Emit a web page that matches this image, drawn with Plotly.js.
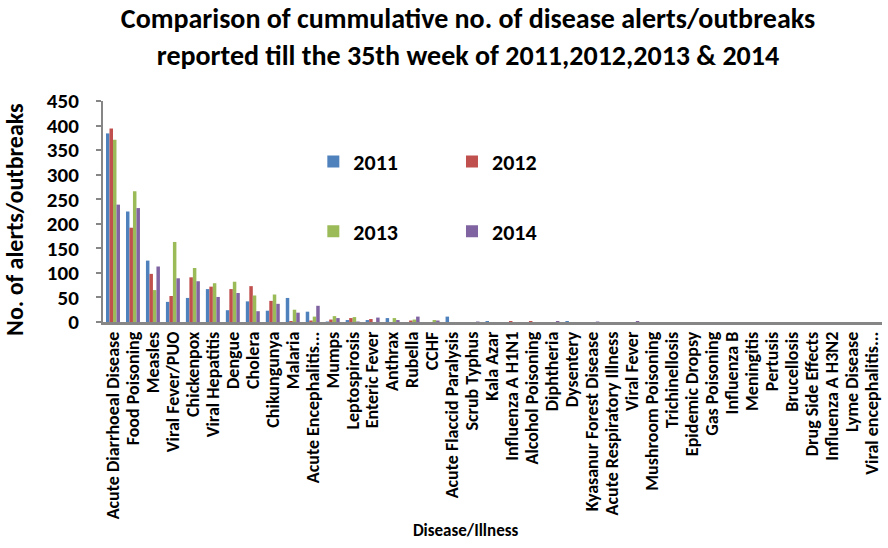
<!DOCTYPE html>
<html>
<head>
<meta charset="utf-8">
<script src="https://cdn.plot.ly/plotly-3.0.1.min.js"></script>
<style>html,body{margin:0;padding:0;background:#fff;}#chart{width:888px;height:548px;}</style>
</head>
<body>
<div id="chart"></div>
<script>
const categories = ["Acute Diarrhoeal Disease","Food Poisoning","Measles","Viral Fever/PUO","Chickenpox","Viral Hepatitis","Dengue","Cholera","Chikungunya","Malaria","Acute Encephalitis...","Mumps","Leptospirosis","Enteric Fever","Anthrax","Rubella","CCHF","Acute Flaccid Paralysis","Scrub Typhus","Kala Azar","Influenza A H1N1","Alcohol Poisoning","Diphtheria","Dysentery","Kyasanur Forest Disease","Acute Respiratory Illness","Viral Fever","Mushroom Poisoning","Trichinellosis","Epidemic Dropsy","Gas Poisoning","Influenza B","Meningitis","Pertusis","Brucellosis","Drug Side Effects","Influenza A H3N2","Lyme Disease","Viral encephalitis..."];

const v2011 = [384,225,125,41,49,67,24,42,23,49,21,1,4,4,8,0,0,11,0,2,0,0,0,2,0,0,0,0,0,0,0,0,0,0,0,0,0,0,0];
const v2012 = [394,192,98,53,91,72,67,73,43,2,3,5,8,6,0,3,0,0,0,0,2,2,0,0,0,0,0,0,0,0,0,0,0,0,0,0,0,0,0];
const v2013 = [371,266,65,163,110,79,82,54,56,25,11,12,10,0,8,5,4,0,0,0,0,0,0,0,0,0,0,0,0,0,0,0,0,0,0,0,0,0,0];
const v2014 = [239,232,113,89,83,51,59,22,37,19,33,8,1,9,4,11,3,0,1,0,0,0,2,0,1,0,2,0,0,0,0,0,0,0,0,0,0,0,0];

const seriesNames = ["2011","2012","2013","2014"];
const seriesColors = ["#4F81BD","#C0504D","#9BBB59","#8064A2"];
const seriesValues = [v2011, v2012, v2013, v2014];
const legendIds = ["legend","legend2","legend3","legend4"];

const FONT = "Carlito, Calibri, 'Liberation Sans Narrow', 'Roboto Condensed', Roboto, sans-serif";

const traces = seriesNames.map((n,i)=>({
  type:'bar', name:n, x:categories, y:seriesValues[i],
  marker:{color:seriesColors[i], line:{width:0}},
  legend: legendIds[i]
}));

function leg(x,y){
  return {x:x, y:y, xref:'paper', yref:'paper', xanchor:'left', yanchor:'top',
    bgcolor:'rgba(0,0,0,0)', font:{family:FONT, size:22, color:'#000', weight:'bold'},
    itemwidth:30, tracegroupgap:0};
}

const NB = '\u00a0';

const layout = {
  width:888, height:548,
  paper_bgcolor:'#fff', plot_bgcolor:'#fff',
  margin:{l:103, r:6, t:101, b:226, autoexpand:false},
  barmode:'group', bargap:0.3, bargroupgap:0,
  font:{family:FONT, color:'#000'},
  title:{text:'<b>Comparison of cummulative no. of disease alerts/outbreaks<br>reported till the 35th week of 2011,2012,2013 & 2014</b>',
    font:{family:FONT, size:28, color:'#000'}, xref:'container', yref:'container',
    x:0.527, xanchor:'center', y:0.948, yanchor:'top'},
  xaxis:{type:'category', tickmode:'linear', tick0:0, dtick:1, tickangle:-90, showline:true, linecolor:'#868686', linewidth:2.5,
    ticks:'', tickfont:{family:FONT, size:18, color:'#000', weight:'bold'}, automargin:false,
    title:{text:'<b>Disease/Illness' + NB.repeat(14) + '</b>', font:{family:FONT, size:17, color:'#000'}, standoff:6},
    showgrid:false, zeroline:false},
  yaxis:{range:[0,450], dtick:50, tick0:0, showline:true, linecolor:'#868686', linewidth:2,
    ticks:'outside', ticklen:5, tickcolor:'#868686', tickwidth:2, ticklabelstandoff:13,
    tickfont:{family:FONT, size:21, color:'#000', weight:'bold'}, showgrid:false, zeroline:false, automargin:false,
    title:{text:'<b>No. of alerts/outbreaks' + NB.repeat(3) + '</b>', font:{family:FONT, size:24, color:'#000'}, standoff:16}},
  legend: leg(0.270, 0.82),
  legend2: leg(0.448, 0.82),
  legend3: leg(0.270, 0.505),
  legend4: leg(0.448, 0.505),
  showlegend:true
};

Plotly.newPlot('chart', traces, layout, {displayModeBar:false, staticPlot:true});
</script>
</body>
</html>
